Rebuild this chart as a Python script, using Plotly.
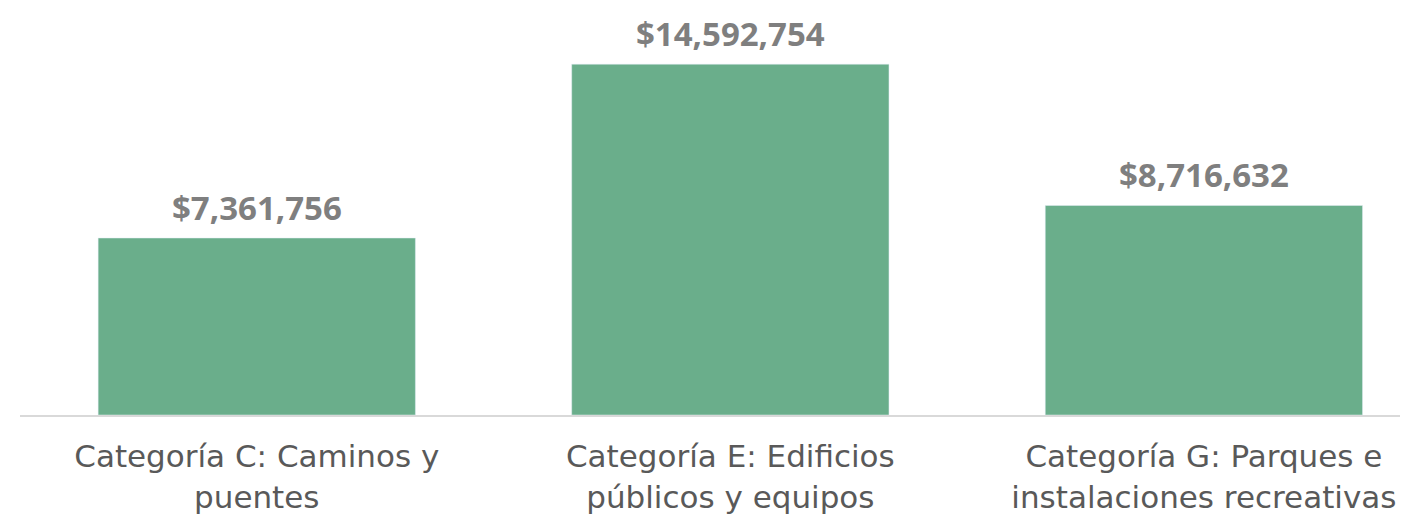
import plotly.graph_objects as go

# Data
categories = [
    'Categoría C: Caminos y<br>puentes',
    'Categoría E: Edificios<br>públicos y equipos',
    'Categoría G: Parques e<br>instalaciones recreativas',
]
amounts = [7361756, 14592754, 8716632]

COLORS = {
    'bar': '#6aae8b',
    'label': '#7f7f7f',
    'tick': '#595959',
    'axis': '#d9d9d9',
}

fig = go.Figure(
    go.Bar(
        x=categories,
        y=amounts,
        width=0.67,
        marker_color=COLORS['bar'],
        hoverinfo='skip',
    )
)

# value labels above each bar
for cat, val in zip(categories, amounts):
    fig.add_annotation(
        x=cat, y=val, text=f'${val:,.0f}',
        showarrow=False, yanchor='bottom', yshift=6,
        font=dict(family='Open Sans', size=33, color=COLORS['label'], weight='bold'),
    )

fig.update_layout(
    width=1400,
    height=507,
    margin=dict(l=12, r=0, t=0, b=94),
    paper_bgcolor='white',
    plot_bgcolor='white',
    font=dict(family='DejaVu Sans', color=COLORS['tick']),
    showlegend=False,
    xaxis=dict(
        range=[-0.5, 2.431],
        showline=True,
        linecolor=COLORS['axis'],
        linewidth=2,
        ticks='',
        tickfont=dict(family='DejaVu Sans', size=31, color=COLORS['tick']),
        ticklabelstandoff=13,
        showgrid=False,
    ),
    yaxis=dict(
        range=[0, 16929000],
        visible=False,
        showgrid=False,
        zeroline=False,
    ),
)

fig.write_html('out.html')
